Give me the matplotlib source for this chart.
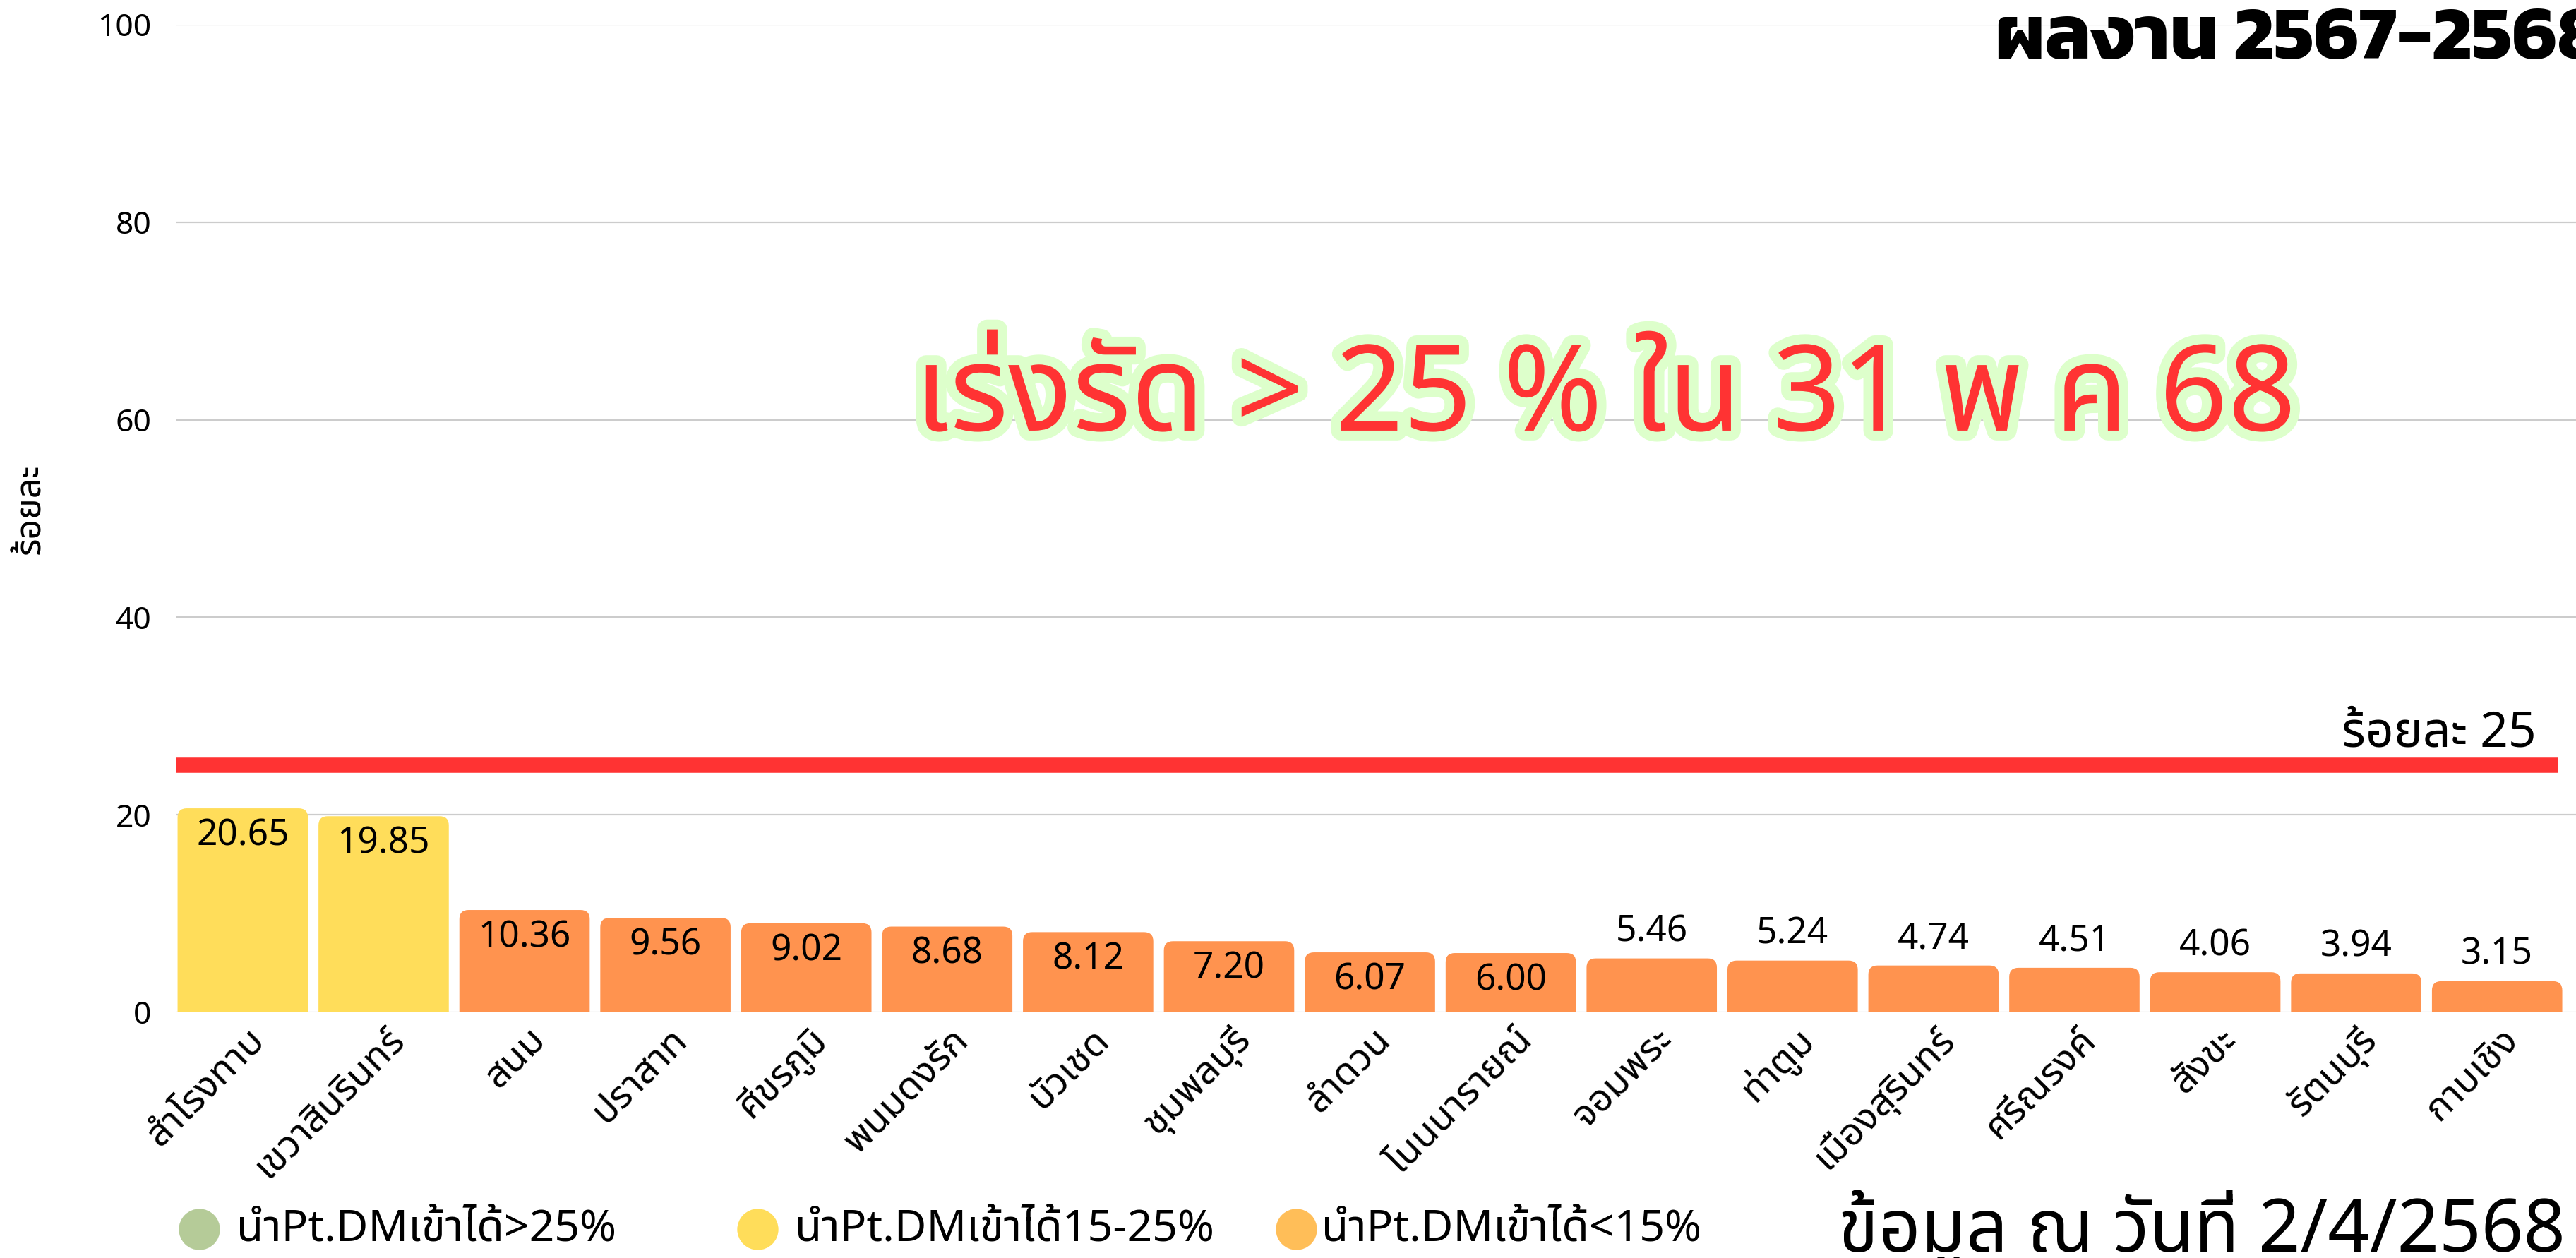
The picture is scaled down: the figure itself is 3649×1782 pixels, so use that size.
import matplotlib; matplotlib.use('Agg')
import matplotlib.pyplot as plt
import matplotlib.patheffects as pe
from matplotlib.patches import FancyBboxPatch
from matplotlib.lines import Line2D
from matplotlib.transforms import ScaledTranslation
import numpy as np

THAI = ['Noto Sans Thai', 'Noto Sans', 'DejaVu Sans']
plt.rcParams['font.family'] = THAI

# data
districts = ['สำโรงทาบ', 'เขวาสินรินทร์', 'สนม', 'ปราสาท', 'ศีขรภูมิ', 'พนมดงรัก', 'บัวเชด',
             'ชุมพลบุรี', 'ลำดวน', 'โนนนารายณ์', 'จอมพระ', 'ท่าตูม', 'เมืองสุรินทร์',
             'ศรีณรงค์', 'สังขะ', 'รัตนบุรี', 'กาบเชิง']
pct = [20.65, 19.85, 10.36, 9.56, 9.02, 8.68, 8.12, 7.20, 6.07, 6.00,
       5.46, 5.24, 4.74, 4.51, 4.06, 3.94, 3.15]
target = 25
legend_labels = ['นำPt.DMเข้าได้>25%', 'นำPt.DMเข้าได้15-25%', 'นำPt.DMเข้าได้<15%']
legend_colors = ['#B5CB98', '#FFDD5A', '#FFBE58']

def bar_color(v):
    if v > 25: return '#B5CB98'
    if v >= 15: return '#FFDD5A'
    return '#FF934F'

fig = plt.figure(figsize=(36.49, 17.82), dpi=100)
ax = fig.add_axes([0.0682, 0.1953, 0.9318, 0.7851])
x = np.arange(len(districts))
bars = ax.bar(x, pct, width=0.925, color=[bar_color(v) for v in pct], zorder=2)

# swap the plain rectangles for ones with rounded tops
ax.set_xlim(-0.476, 16.56)
ax.set_ylim(0, 100)
px_x = 3400 / (16.56 + 0.476)
px_y = 1399 / 100
r = 13 / px_x
for b in bars:
    b.set_visible(False)
    fb = FancyBboxPatch((b.get_x(), -2), b.get_width(), b.get_height() + 2,
                        boxstyle=f"round,pad=0,rounding_size={r}",
                        mutation_aspect=px_x / px_y, fc=b.get_facecolor(), ec='none', zorder=2)
    ax.add_patch(fb)

for xi, v in zip(x, pct):
    inside = v >= 6
    ax.annotate(f"{v:.2f}", (xi, v), xytext=(0, -28 if inside else 27), textcoords='offset points',
                ha='center', va='center', fontsize=37, color='black', zorder=4)

ax.axhline(target, xmin=0, xmax=0.9925, color='#FF3333', lw=15.5, zorder=3, solid_capstyle='butt')
ax.text(16.28, 26.9, 'ร้อยละ 25', ha='right', va='baseline', fontsize=50, zorder=4)

ax.set_yticks(range(0, 101, 20))
ax.grid(axis='y', color='#CCCCCC', lw=1.6, zorder=0)
ax.set_axisbelow(True)
for s in ax.spines.values():
    s.set_visible(False)
ax.tick_params(axis='y', length=0, pad=25, labelsize=32)
ax.tick_params(axis='x', length=0, pad=22)
ax.set_xticks(x)
ax.set_xticklabels(districts, rotation=45, ha='right', va='center', rotation_mode='anchor', fontsize=39)
off = ScaledTranslation(22 / 100, 0, fig.dpi_scale_trans)
for lab in ax.get_xticklabels():
    lab.set_transform(lab.get_transform() + off)
ax.set_ylabel('ร้อยละ', fontsize=36, labelpad=0)
ax.yaxis.set_label_coords(-0.053, 0.51)

# big reminder text
ax.text(9.67, 58.9, 'เร่งรัด > 25 % ใน 31 พ ค 68', ha='center', va='baseline', fontsize=122,
        color='#FF3333', zorder=5,
        path_effects=[pe.withStroke(linewidth=20, foreground='#DDFFCB')])

fig.text(0.7745, 0.9534, 'ผลงาน 2567-2568', family=['Kanit', 'Noto Sans'], fontweight='bold',
         fontsize=78, ha='left', va='baseline')
fig.text(0.996, 0.005, 'ข้อมูล ณ วันที่ 2/4/2568', ha='right', va='baseline', fontsize=75)

# legend row at the bottom
leg_x = [282, 1073, 1836]
txt_x = [335, 1126, 1872]
for cx, tx, lab, c in zip(leg_x, txt_x, legend_labels, legend_colors):
    fig.add_artist(Line2D([cx / 3649], [1 - 1741 / 1782], transform=fig.transFigure, marker='o',
                          ms=42, mfc=c, mec='none', ls='none'))
    fig.text(tx / 3649, 1 - 1741 / 1782, lab, ha='left', va='center', fontsize=45)

fig.savefig('out.png', dpi=100)
